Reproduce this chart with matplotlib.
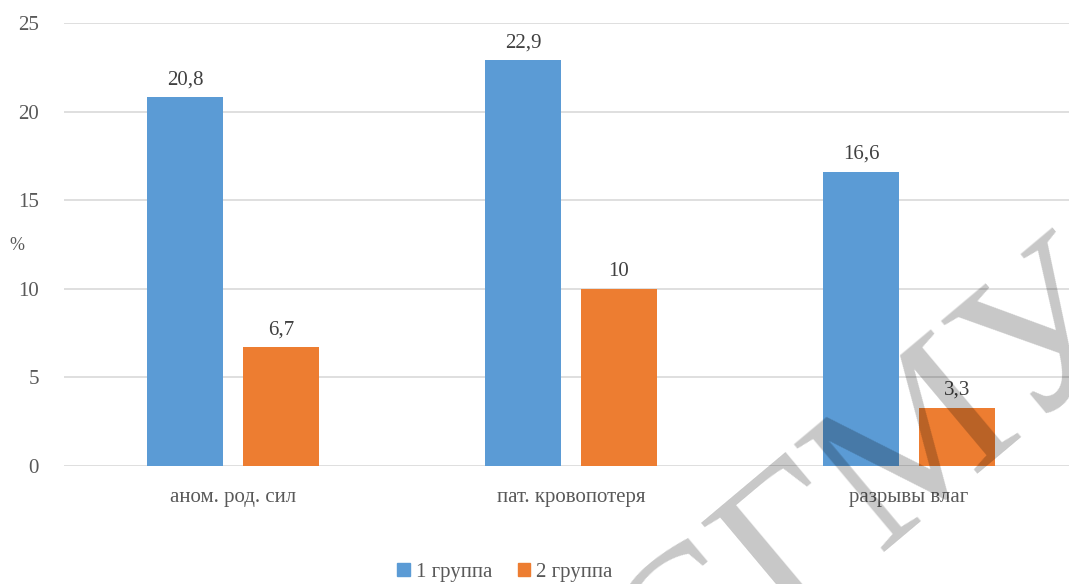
import matplotlib
matplotlib.use("Agg")
import matplotlib.pyplot as plt
from matplotlib.patches import Patch
import numpy as np

categories = ["аном. род. сил", "пат. кровопотеря", "разрывы влаг"]
group1 = [20.8, 22.9, 16.6]
group2 = [6.7, 10, 3.3]
series_names = ["1 группа", "2 группа"]
yticks = [0, 5, 10, 15, 20, 25]

plt.rcParams['font.family'] = ['Liberation Serif', 'DejaVu Serif']
txt = '#595959'
c1 = '#5B9BD5'
c2 = '#ED7D31'

W, H = 1069, 584
fig = plt.figure(figsize=(W/100, H/100), dpi=100)
ax = fig.add_axes([64/W, 1-466/H, 1-64/W, (466-23)/H])

x = np.arange(len(categories))
bw = 0.225
off = (bw + 0.059) / 2
ax.bar(x - off, group1, bw, color=c1, zorder=3)
ax.bar(x + off, group2, bw, color=c2, zorder=3)

def lab(v):
    return f"{v:g}".replace('.', ',')
for xi, v in zip(x - off, group1):
    ax.text(xi, v + 0.45, lab(v), ha='center', va='bottom', fontsize=15, color='#404040')
for xi, v in zip(x + off, group2):
    ax.text(xi, v + 0.45, lab(v), ha='center', va='bottom', fontsize=15, color='#404040')

ax.set_ylim(0, 25)
ax.set_xlim(-0.5, 2.5 - 9/338)
ax.set_yticks(yticks)
ax.set_yticklabels([str(t) for t in yticks], fontsize=15, color=txt)
ax.set_xticks(x)
ax.set_xticklabels(categories, fontsize=15, color=txt)
ax.tick_params(axis='both', length=0)
ax.tick_params(axis='y', pad=18)
ax.tick_params(axis='x', pad=16)
ax.grid(axis='y', color='#D9D9D9', linewidth=1.2, zorder=0)
for s in ax.spines.values():
    s.set_visible(False)

fig.text(17/W, 1-246/H, "%", fontsize=13, color=txt, ha='center', va='center')

handles = [Patch(color=c1), Patch(color=c2)]
fig.legend(handles, series_names, loc='center', bbox_to_anchor=(505/W, 1-572/H),
           ncol=2, frameon=False, fontsize=15, handlelength=0.6, handleheight=0.6,
           handletextpad=0.3, columnspacing=1.2, labelcolor=txt)

# watermark
fig.text(875/W, 1-485/H, "СГМУ", fontsize=155, color='#000000', alpha=0.22,
         rotation=40, ha='center', va='center', family='Liberation Serif', zorder=10)

fig.savefig("out.png", dpi=100)
